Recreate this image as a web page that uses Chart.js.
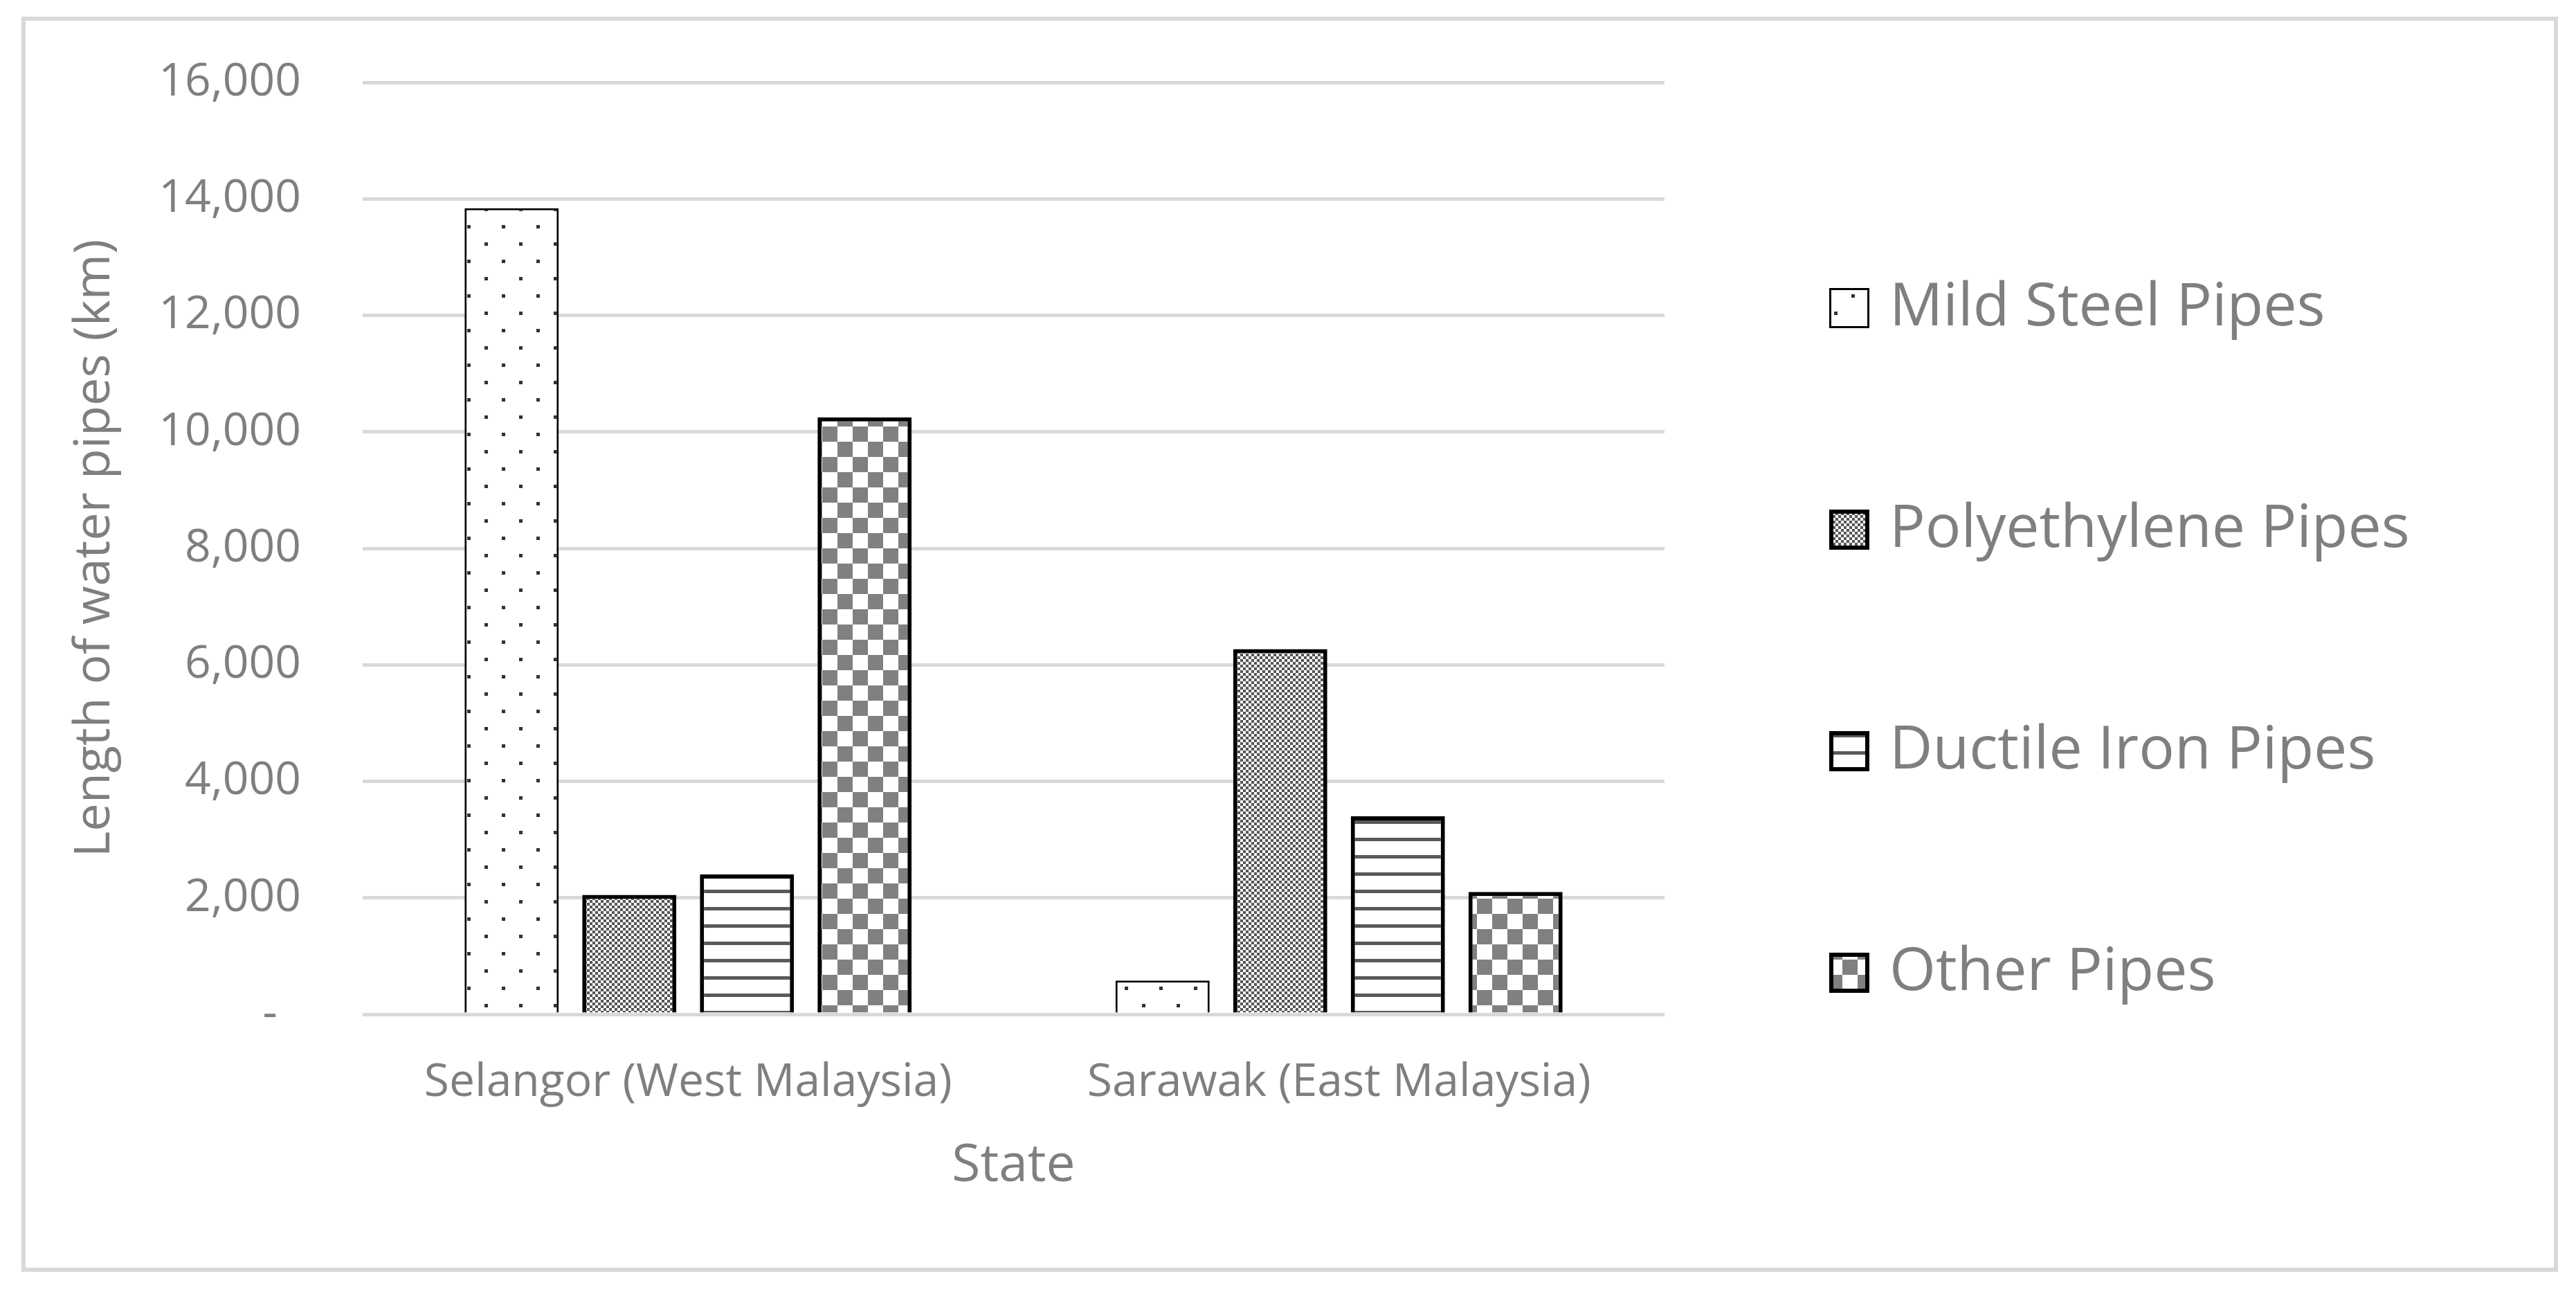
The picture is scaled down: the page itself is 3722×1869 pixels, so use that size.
<!DOCTYPE html>
<html>
<head>
<meta charset="utf-8">
<script src="https://cdn.jsdelivr.net/npm/chart.js@4.4.1/dist/chart.umd.min.js"></script>
<style>
  html, body { margin: 0; padding: 0; background: #fff; }
  canvas { display: block; }
</style>
</head>
<body>
<canvas id="chart" width="3722" height="1869"></canvas>
<script>
// data (km)
var categories = ['Selangor (West Malaysia)', 'Sarawak (East Malaysia)'];
var seriesNames = ['Mild Steel Pipes', 'Polyethylene Pipes', 'Ductile Iron Pipes', 'Other Pipes'];
var mildSteel = [13840, 580];
var polyethylene = [2050, 6270];
var ductileIron = [2400, 3400];
var otherPipes = [10250, 2100];
var yMax = 16000;
var yStep = 2000;

var textGrey = '#7f7f7f';
var font = 'Open Sans';

// fill patterns, roughly like the Excel ones
function makePattern(w, h, draw) {
  var c = document.createElement('canvas');
  c.width = w; c.height = h;
  var g = c.getContext('2d');
  g.fillStyle = '#fff';
  g.fillRect(0, 0, w, h);
  draw(g);
  return c.getContext('2d').createPattern(c, 'repeat');
}

var dots = makePattern(50, 50, function(g) {
  g.fillStyle = '#333';
  g.fillRect(0, 0, 5, 5);
  g.fillRect(25, 25, 5, 5);
});
var fineCheck = makePattern(8, 8, function(g) {
  g.fillStyle = '#555';
  g.fillRect(0, 0, 4, 4);
  g.fillRect(4, 4, 4, 4);
});
var hLines = makePattern(10, 25, function(g) {
  g.fillStyle = '#595959';
  g.fillRect(0, 10, 10, 5);
});
var bigCheck = makePattern(44, 44, function(g) {
  g.fillStyle = '#808080';
  g.fillRect(0, 0, 22, 22);
  g.fillRect(22, 22, 22, 22);
});

var fills = [dots, fineCheck, hLines, bigCheck];
var borders = [3, 6, 6, 6];
var values = [mildSteel, polyethylene, ductileIron, otherPipes];

var datasets = [];
for (var i = 0; i < seriesNames.length; i++) {
  datasets.push({
    label: seriesNames[i],
    data: values[i],
    backgroundColor: fills[i],
    borderColor: '#000',
    borderWidth: borders[i],
    categoryPercentage: 0.723,
    barPercentage: 0.8
  });
}

// outer frame
var framePlugin = {
  id: 'frame',
  beforeDraw: function(chart) {
    var ctx = chart.ctx;
    ctx.save();
    ctx.strokeStyle = '#d9d9d9';
    ctx.lineWidth = 6;
    ctx.strokeRect(34, 27, 3659, 1807);
    ctx.restore();
  }
};

// legend on the right, one item per row with wide gaps
var legendPlugin = {
  id: 'sideLegend',
  afterDraw: function(chart) {
    var ctx = chart.ctx;
    ctx.save();
    chart.data.datasets.forEach(function(ds, i) {
      var cy = 445 + i * 320;
      var bx = 2643, by = cy - 29, bs = 58;
      ctx.fillStyle = ds.backgroundColor;
      ctx.fillRect(bx, by, bs, bs);
      ctx.strokeStyle = '#000';
      ctx.lineWidth = ds.borderWidth;
      ctx.strokeRect(bx + ds.borderWidth / 2, by + ds.borderWidth / 2, bs - ds.borderWidth, bs - ds.borderWidth);
      ctx.fillStyle = textGrey;
      ctx.font = '86px "' + font + '"';
      ctx.textBaseline = 'middle';
      ctx.textAlign = 'left';
      ctx.fillText(ds.label, 2730, cy);
    });
    ctx.restore();
  }
};

var ctx = document.getElementById('chart').getContext('2d');
new Chart(ctx, {
  type: 'bar',
  data: { labels: categories, datasets: datasets },
  plugins: [framePlugin, legendPlugin],
  options: {
    responsive: false,
    animation: false,
    devicePixelRatio: 1,
    layout: { padding: { left: 34, top: 119, right: 1317, bottom: 36 } },
    plugins: {
      legend: { display: false },
      tooltip: { enabled: false }
    },
    scales: {
      x: {
        grid: { display: false },
        border: { display: false },
        ticks: { color: textGrey, font: { family: font, size: 66 }, padding: 52 },
        title: {
          display: true, text: 'State', color: textGrey,
          font: { family: font, size: 75 }, padding: { top: 0, bottom: 103 }
        },
        afterFit: function(scale) { scale.height = 368; }
      },
      y: {
        min: 0,
        max: yMax,
        grid: { color: '#d9d9d9', lineWidth: 5, drawTicks: false },
        border: { display: false },
        ticks: {
          stepSize: yStep,
          color: textGrey,
          padding: 89,
          font: { family: font, size: 66 },
          callback: function(v) { return v === 0 ? '-  ' : v.toLocaleString('en-US'); }
        },
        title: {
          display: true, text: 'Length of water pipes (km)', color: textGrey,
          font: { family: font, size: 72 }, padding: { top: 60, bottom: 0 }
        },
        afterFit: function(scale) {
          scale.width = 490;
          // tick padding would otherwise push the plot top down
          scale.paddingTop = 0;
          scale.paddingBottom = 0;
        }
      }
    }
  }
});
</script>
</body>
</html>
